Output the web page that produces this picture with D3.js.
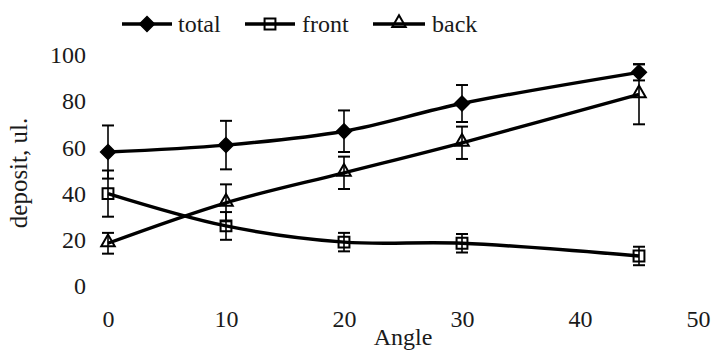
<!DOCTYPE html>
<html>
<head>
<meta charset="utf-8">
<script src="https://cdn.jsdelivr.net/npm/d3@7"></script>
<style>
  body { margin: 0; background: #fff; }
</style>
</head>
<body>
<div id="deposit_chart"></div>
<script>

// DATA
var angles = [0, 10, 20, 30, 45]
var total_vals = [58, 61, 67, 79, 92.5]
var total_err = [11.5, 10.5, 9, 8, 3.5]
var front_vals = [40, 26, 19, 18.5, 13]
var front_err = [10, 6, 4, 4, 4]
var back_vals = [18.5, 36, 49, 62, 83]
var back_err = [4.5, 8, 7, 7, 13]
var x_ticks = [0, 10, 20, 30, 40, 50]
var y_ticks = [0, 20, 40, 60, 80, 100]

var series = [
	{name: 'total', vals: total_vals, err: total_err, symbol: 'diamond'},
	{name: 'front', vals: front_vals, err: front_err, symbol: 'square'},
	{name: 'back', vals: back_vals, err: back_err, symbol: 'triangle'}
]

var FONT = "'Liberation Serif', 'Times New Roman', serif";
var W = 713, H = 350;

var svg = d3.select("#deposit_chart")
	.append("svg")
		.attr("width", W)
		.attr("height", H);

// scales
var x = d3.scaleLinear()
	.domain([0, 50])
	.range([108, 698]);

var y = d3.scaleLinear()
	.domain([0, 100])
	.range([286, 55]);

// Y axis (labels only)
var yAxis = svg.append("g")
	.attr("transform", "translate(86,0)")
	.call(d3.axisLeft(y).tickValues(y_ticks).tickSize(0).tickPadding(0));
yAxis.select(".domain").remove();
yAxis.attr("font-family", FONT).attr("font-size", 24);
yAxis.selectAll("text").attr("fill", "#1a1a1a");

// X axis (labels only)
var xAxis = svg.append("g")
	.attr("transform", "translate(0,310)")
	.call(d3.axisBottom(x).tickValues(x_ticks).tickSize(0).tickPadding(0));
xAxis.select(".domain").remove();
xAxis.attr("font-family", FONT).attr("font-size", 24);
xAxis.selectAll("text").attr("fill", "#1a1a1a");

// axis titles
svg.append("text")
	.attr("x", 403)
	.attr("y", 345)
	.attr("text-anchor", "middle")
	.attr("font-family", FONT)
	.attr("font-size", 24)
	.attr("fill", "#1a1a1a")
	.text("Angle");

svg.append("text")
	.attr("transform", "translate(27,173) rotate(-90)")
	.attr("text-anchor", "middle")
	.attr("font-family", FONT)
	.attr("font-size", 25)
	.attr("fill", "#1a1a1a")
	.text("deposit, ul.");

function symbolFor(name) {
	if (name == 'diamond') return d3.symbol().type(d3.symbolDiamond2).size(140)();
	if (name == 'square') return d3.symbol().type(d3.symbolSquare2).size(150)();
	return d3.symbol().type(d3.symbolTriangle2).size(130)();
}

function styleMarker(sel, name) {
	if (name == 'diamond') {
		sel.attr("fill", "#000").attr("stroke", "#000").attr("stroke-width", 1.5);
	} else {
		sel.attr("fill", "none").attr("stroke", "#000").attr("stroke-width", 2);
	}
}

var line = d3.line()
	.x(function(d) { return x(d.a); })
	.y(function(d) { return y(d.v); })
	.curve(d3.curveCatmullRom.alpha(0.5));

series.forEach(function(s) {
	var pts = angles.map(function(a, i) { return {a: a, v: s.vals[i], e: s.err[i]}; });

	svg.append("path")
		.datum(pts)
		.attr("d", line)
		.attr("fill", "none")
		.attr("stroke", "#000")
		.attr("stroke-width", 3.4);

	// error bars
	var eb = svg.append("g");
	pts.forEach(function(d) {
		eb.append("line")
			.attr("x1", x(d.a)).attr("x2", x(d.a))
			.attr("y1", y(d.v - d.e)).attr("y2", y(d.v + d.e))
			.attr("stroke", "#000").attr("stroke-width", 1.6);
		[d.v - d.e, d.v + d.e].forEach(function(c) {
			eb.append("line")
				.attr("x1", x(d.a) - 6).attr("x2", x(d.a) + 6)
				.attr("y1", y(c)).attr("y2", y(c))
				.attr("stroke", "#000").attr("stroke-width", 2);
		});
	});

	var m = svg.selectAll("path.m-" + s.name)
		.data(pts)
		.enter()
		.append("path")
		.attr("class", "m-" + s.name)
		.attr("d", symbolFor(s.symbol))
		.attr("transform", function(d) {
			var dy = s.symbol == 'triangle' ? -1 : 0;
			return "translate(" + x(d.a) + "," + (y(d.v) + dy) + ")";
		});
	styleMarker(m, s.symbol);
});

// legend
var legend_pos = [
	{x1: 122, x2: 172, tx: 178},
	{x1: 245, x2: 295, tx: 302},
	{x1: 373, x2: 425, tx: 432}
];
series.forEach(function(s, i) {
	var p = legend_pos[i];
	var g = svg.append("g");
	g.append("line")
		.attr("x1", p.x1).attr("x2", p.x2)
		.attr("y1", 24).attr("y2", 24)
		.attr("stroke", "#000").attr("stroke-width", 3.4);
	var mk = g.append("path")
		.attr("d", symbolFor(s.symbol))
		.attr("transform", "translate(" + ((p.x1 + p.x2) / 2) + "," + (s.symbol == 'triangle' ? 23 : 24) + ")");
	styleMarker(mk, s.symbol);
	g.append("text")
		.attr("x", p.tx)
		.attr("y", 32)
		.attr("font-family", FONT)
		.attr("font-size", 24)
		.attr("fill", "#1a1a1a")
		.text(s.name);
});

</script>
</body>
</html>
